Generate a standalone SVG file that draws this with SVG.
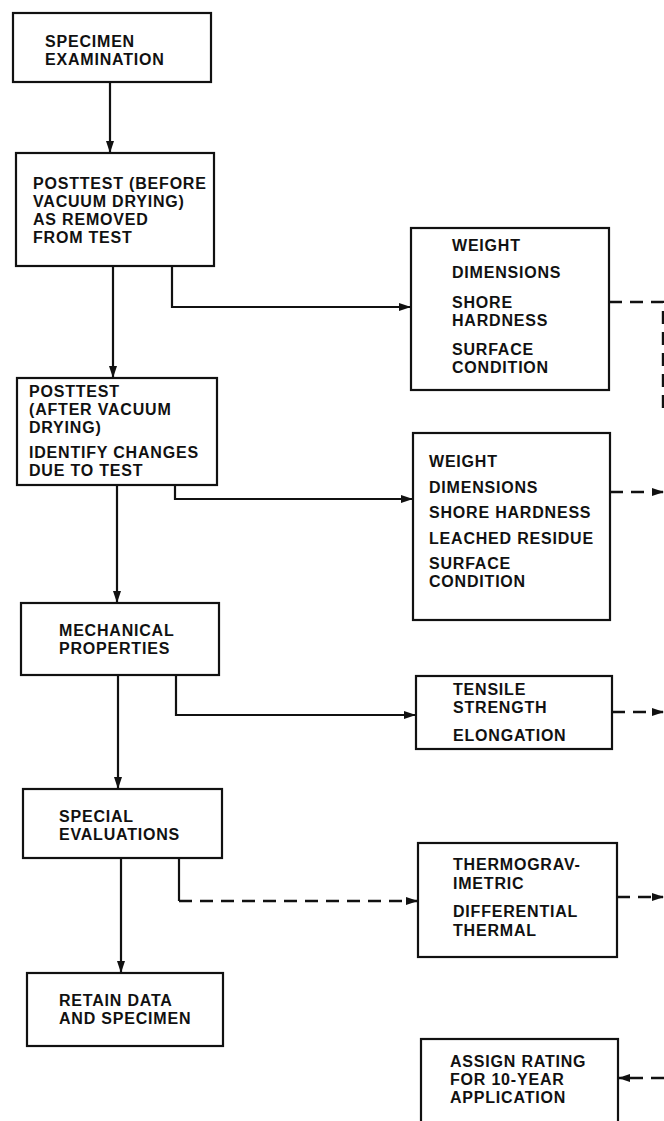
<svg xmlns="http://www.w3.org/2000/svg" width="664" height="1121" viewBox="0 0 664 1121">
  <style>
    .box { fill: #fff; stroke: #111; stroke-width: 2.2; }
    .lbl { font-family: "Liberation Sans", Arial, sans-serif; font-weight: bold; font-size: 16px; letter-spacing: 0.8px; fill: #111; }
    .ln { fill: none; stroke: #111; stroke-width: 2.2; }
    .dash { fill: none; stroke: #111; stroke-width: 2.4; stroke-dasharray: 13 8; }
  </style>
  <defs>
    <marker id="arr" viewBox="0 0 12 8" refX="11" refY="4" markerWidth="12" markerHeight="8" markerUnits="userSpaceOnUse" orient="auto">
      <path d="M0 0 L12 4 L0 8 Z" fill="#111"/>
    </marker>
  </defs>

  <!-- left column: main sequence -->
  <g id="n-specimen">
    <rect class="box" x="13" y="13" width="198" height="69"/>
    <text class="lbl" x="45" y="47">SPECIMEN</text>
    <text class="lbl" x="45" y="65">EXAMINATION</text>
  </g>
  <g id="n-posttest-before">
    <rect class="box" x="16" y="153" width="198" height="113"/>
    <text class="lbl" x="33" y="189">POSTTEST (BEFORE</text>
    <text class="lbl" x="33" y="207">VACUUM DRYING)</text>
    <text class="lbl" x="33" y="225">AS REMOVED</text>
    <text class="lbl" x="33" y="243">FROM TEST</text>
  </g>
  <g id="n-posttest-after">
    <rect class="box" x="17" y="378" width="200" height="107"/>
    <text class="lbl" x="29" y="397">POSTTEST</text>
    <text class="lbl" x="29" y="415">(AFTER VACUUM</text>
    <text class="lbl" x="29" y="433">DRYING)</text>
    <text class="lbl" x="29" y="458">IDENTIFY CHANGES</text>
    <text class="lbl" x="29" y="476">DUE TO TEST</text>
  </g>
  <g id="n-mechanical">
    <rect class="box" x="21" y="603" width="198" height="72"/>
    <text class="lbl" x="59" y="636">MECHANICAL</text>
    <text class="lbl" x="59" y="654">PROPERTIES</text>
  </g>
  <g id="n-special">
    <rect class="box" x="23" y="789" width="199" height="69"/>
    <text class="lbl" x="59" y="822">SPECIAL</text>
    <text class="lbl" x="59" y="840">EVALUATIONS</text>
  </g>
  <g id="n-retain">
    <rect class="box" x="27" y="973" width="196" height="73"/>
    <text class="lbl" x="59" y="1006">RETAIN DATA</text>
    <text class="lbl" x="59" y="1024">AND SPECIMEN</text>
  </g>

  <!-- right column: measurements -->
  <g id="n-meas-before">
    <rect class="box" x="411" y="228" width="198" height="162"/>
    <text class="lbl" x="452" y="251">WEIGHT</text>
    <text class="lbl" x="452" y="278">DIMENSIONS</text>
    <text class="lbl" x="452" y="308">SHORE</text>
    <text class="lbl" x="452" y="326">HARDNESS</text>
    <text class="lbl" x="452" y="355">SURFACE</text>
    <text class="lbl" x="452" y="373">CONDITION</text>
  </g>
  <g id="n-meas-after">
    <rect class="box" x="413" y="433" width="197" height="187"/>
    <text class="lbl" x="429" y="467">WEIGHT</text>
    <text class="lbl" x="429" y="493">DIMENSIONS</text>
    <text class="lbl" x="429" y="518">SHORE HARDNESS</text>
    <text class="lbl" x="429" y="544">LEACHED RESIDUE</text>
    <text class="lbl" x="429" y="569">SURFACE</text>
    <text class="lbl" x="429" y="587">CONDITION</text>
  </g>
  <g id="n-tensile">
    <rect class="box" x="416" y="676" width="196" height="73"/>
    <text class="lbl" x="453" y="695">TENSILE</text>
    <text class="lbl" x="453" y="713">STRENGTH</text>
    <text class="lbl" x="453" y="741">ELONGATION</text>
  </g>
  <g id="n-thermal">
    <rect class="box" x="418" y="843" width="199" height="114"/>
    <text class="lbl" x="453" y="870">THERMOGRAV-</text>
    <text class="lbl" x="453" y="889">IMETRIC</text>
    <text class="lbl" x="453" y="917">DIFFERENTIAL</text>
    <text class="lbl" x="453" y="936">THERMAL</text>
  </g>
  <g id="n-rating">
    <rect class="box" x="421" y="1039" width="197" height="100"/>
    <text class="lbl" x="450" y="1067">ASSIGN RATING</text>
    <text class="lbl" x="450" y="1085">FOR 10-YEAR</text>
    <text class="lbl" x="450" y="1103">APPLICATION</text>
  </g>

  <g id="connectors">
    <!-- main downward flow -->
    <path class="ln" d="M110 82 V152" marker-end="url(#arr)"/>
    <path class="ln" d="M113 266 V377" marker-end="url(#arr)"/>
    <path class="ln" d="M117 485 V602" marker-end="url(#arr)"/>
    <path class="ln" d="M118 675 V788" marker-end="url(#arr)"/>
    <path class="ln" d="M121 858 V972" marker-end="url(#arr)"/>
    <!-- branches to the measurement boxes -->
    <path class="ln" d="M172 266 V307 H410" marker-end="url(#arr)"/>
    <path class="ln" d="M175 485 V499 H412" marker-end="url(#arr)"/>
    <path class="ln" d="M176 675 V715 H415" marker-end="url(#arr)"/>
    <path class="ln" d="M179 858 V901"/>
    <path class="dash" d="M179 901 H417" marker-end="url(#arr)"/>
    <!-- results carried to the right margin -->
    <path class="dash" d="M609 302 H663 V412"/>
    <path class="dash" d="M610 492 H663" marker-end="url(#arr)"/>
    <path class="dash" d="M612 712 H663" marker-end="url(#arr)"/>
    <path class="dash" d="M617 897 H663" marker-end="url(#arr)"/>
    <path class="dash" d="M664 1078 H619" marker-end="url(#arr)"/>
  </g>
</svg>
